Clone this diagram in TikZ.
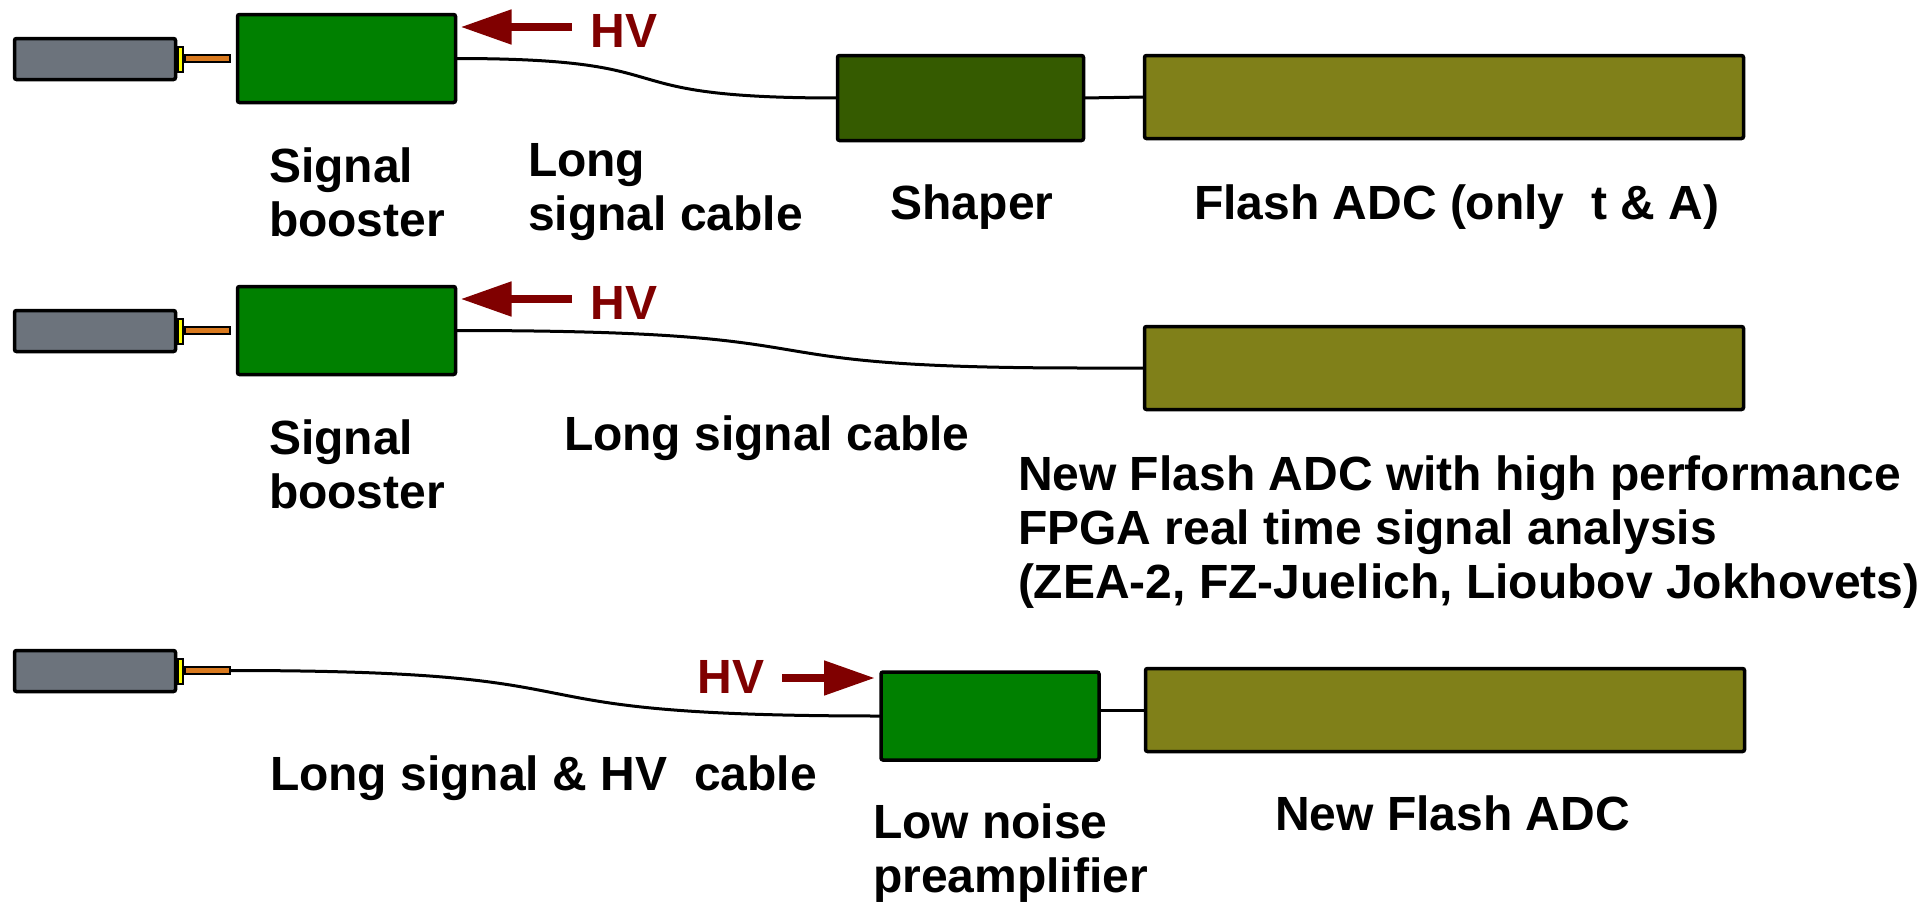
\documentclass[tikz,border=0pt]{standalone}
\usepackage{fontspec}
\setmainfont{Liberation Sans}
\usetikzlibrary{arrows.meta}
\definecolor{tubegray}{HTML}{6C737C}
\definecolor{pinorange}{HTML}{D9791E}
\definecolor{capyellow}{HTML}{FFFF00}
\definecolor{boostgreen}{HTML}{008000}
\definecolor{shapergreen}{HTML}{355B00}
\definecolor{adcolive}{HTML}{808019}
\definecolor{hvred}{HTML}{800000}
\begin{document}
\begin{tikzpicture}[x=1pt,y=-1pt,
  blk/.style={draw=black, line width=3.5pt, rounded corners=2pt, inner sep=0pt, outer sep=0pt},
  tube/.style={blk, fill=tubegray, minimum width=161pt, minimum height=41pt},
  capbox/.style={draw=black, line width=2pt, fill=capyellow, minimum width=5pt, minimum height=25pt, inner sep=0pt, outer sep=0pt},
  pin/.style={draw=black, line width=2pt, fill=pinorange, minimum width=45pt, minimum height=7pt, inner sep=0pt, outer sep=0pt},
  booster/.style={blk, fill=boostgreen, minimum width=218pt, minimum height=88pt},
  shaperbox/.style={blk, fill=shapergreen, minimum width=246pt, minimum height=85pt},
  adc/.style={blk, fill=adcolive, minimum width=599pt, minimum height=83pt},
  cable/.style={draw=black, line width=3pt},
  hvarrow/.style={draw=hvred, line width=8pt, -{Triangle[length=51pt,width=33pt]}},
  txt/.style={font=\fontsize{48}{54}\selectfont\bfseries, inner sep=0pt, outer sep=0pt},
  hvlabel/.style={txt, text=hvred, anchor=base},
  lbl/.style={txt, align=left, anchor=base west},
]
\useasboundingbox (0,0) rectangle (1926,902);

% ---------- row 1 ----------
\node[tube] (tube1) at (95,59) {};
\node[capbox] (cap1) at (180.5,59.5) {};
\node[pin] (pin1) at (207.5,58.5) {};
\node[booster] (boost1) at (346.5,58.5) {};
\node[shaperbox] (shaper) at (960.5,98) {};
\node[adc] (adc1) at (1444,97) {};
\draw[cable] (boost1.east) .. controls (700,58.5) and (590,98) .. (shaper.west);
\draw[cable] (shaper.east) -- (adc1.west);
\coordinate (hv1) at (572,27);
\draw[hvarrow, shorten >=5pt] (hv1) -- (boost1.east |- hv1);
\node[hvlabel] (hvl1) at (624,47) {HV};
% base anchor of a multi-line node = baseline of its last line
\node[lbl] (t1a) at (269,236) {Signal\\booster};
\node[lbl] (t1b) at (528,230) {Long\\signal cable};
\node[txt, anchor=base] (t1c) at (972,219) {Shaper};
\node[lbl] (t1d) at (1194,219) {Flash ADC (only~~t \& A)};

% ---------- row 2 ----------
\node[tube] (tube2) at (95,331) {};
\node[capbox] (cap2) at (180.5,331.5) {};
\node[pin] (pin2) at (207.5,330.5) {};
\node[booster] (boost2) at (346.5,330.5) {};
\node[adc] (adc2) at (1444,368) {};
\coordinate (j2) at (1085,368);
\draw[cable] (boost2.east) .. controls (880,330.5) and (700,368) .. (j2) -- (adc2.west);
\coordinate (hv2) at (572,299);
\draw[hvarrow, shorten >=5pt] (hv2) -- (boost2.east |- hv2);
\node[hvlabel] (hvl2) at (624,319) {HV};
\node[lbl] (t2a) at (269,508) {Signal\\booster};
\node[lbl] (t2b) at (564,450) {Long signal cable};
\node[lbl] (t2c) at (1018,598) {New Flash ADC with high performance\\FPGA real time signal analysis\\(ZEA-2, FZ-Juelich, Lioubov Jokhovets)};

% ---------- row 3 ----------
\node[tube] (tube3) at (95,671) {};
\node[capbox] (cap3) at (180.5,671.5) {};
\node[pin] (pin3) at (207.5,670.5) {};
\node[booster] (preamp) at (990,716) {};
\node[adc] (adc3) at (1445,710) {};
\draw[cable] (pin3.east) .. controls (650,670.5) and (460,716) .. (preamp.west);
\draw[cable] (preamp.east |- adc3.west) -- (adc3.west);
\coordinate (hv3) at (782,678);
\draw[hvarrow, shorten >=6pt] (hv3) -- (preamp.west |- hv3);
\node[hvlabel] (hvl3) at (731,693) {HV};
\node[lbl] (t3a) at (270,790) {Long signal \& HV~~cable};
\node[lbl] (t3b) at (873,892) {Low noise\\preamplifier};
\node[lbl] (t3c) at (1275,830) {New Flash ADC};
\end{tikzpicture}
\end{document}
